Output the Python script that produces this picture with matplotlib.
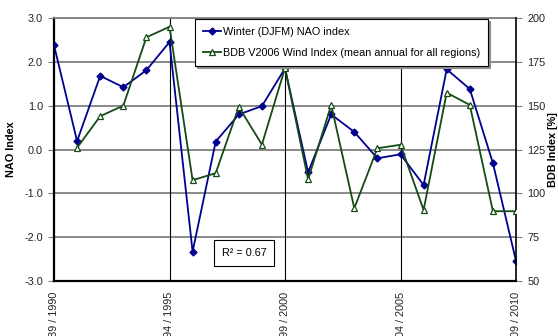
import matplotlib
matplotlib.use("Agg")
import matplotlib.pyplot as plt

years = list(range(1990, 2011))
nao = [2.38, 0.19, 1.68, 1.42, 1.81, 2.45, -2.33, 0.18, 0.80, 0.99, 1.85,
       -0.52, 0.80, 0.40, -0.20, -0.11, -0.81, 1.83, 1.38, -0.31, -2.54]
bdb_years = list(range(1991, 2011))
bdb = [126, 144, 150, 189, 195, 107.5, 111.5, 149.3, 127.8, 171.4, 108,
       150.4, 91.5, 125.7, 127.7, 90.5, 157.4, 150.4, 89.8, 89.8]
xtick_years = [1990, 1995, 2000, 2005, 2010]
xtick_labels = ["1989 / 1990", "1994 / 1995", "1999 / 2000", "2004 / 2005", "2009 / 2010"]
left_ticks = [-3, -2, -1, 0, 1, 2, 3]
right_ticks = [50, 75, 100, 125, 150, 175, 200]

plt.rcParams['font.family'] = ['Liberation Sans', 'DejaVu Sans']
fs = 7.8

fig = plt.figure(figsize=(5.58, 3.36), dpi=100)
ax = fig.add_axes([54/558, 55/336, 462/558, 263/336])
ax2 = ax.twinx()

blue = '#000090'
green = '#144a14'

ax.set_xlim(1990, 2010)
ax.set_ylim(-3, 3)
ax2.set_ylim(50, 200)

for v in left_ticks:
    ax.axhline(v, color='#808080', lw=1.3, zorder=1)
for yx in xtick_years[1:-1]:
    ax.axvline(yx, color='black', lw=0.8, zorder=1)

l1, = ax.plot(years, nao, color=blue, lw=1.3, marker='D', ms=3.5,
              mfc=blue, mec=blue, zorder=3, label='Winter (DJFM) NAO index')
l2, = ax2.plot(bdb_years, bdb, color=green, lw=1.3, marker='^', ms=4.5,
               mfc='white', mec=green, mew=0.9, zorder=3,
               label='BDB V2006 Wind Index (mean annual for all regions)')

ax.set_yticks(left_ticks)
ax.set_yticklabels([f"{v:.1f}" for v in left_ticks], fontsize=fs, color='#222222')
ax2.set_yticks(right_ticks)
ax2.set_yticklabels([str(v) for v in right_ticks], fontsize=fs, color='#222222')
ax.set_xticks(xtick_years)
ax.set_xticklabels(xtick_labels, rotation=90, fontsize=fs, color='#222222', va='top')

ax.tick_params(axis='y', direction='out', length=4, width=0.8, color='#808080', pad=4)
ax2.tick_params(axis='y', direction='out', length=4, width=0.8, color='#808080', pad=4)
ax.tick_params(axis='x', length=0, pad=8)

for s in ['left', 'bottom']:
    ax.spines[s].set_linewidth(1.6)
    ax.spines[s].set_color('black')
ax.spines['top'].set_color('#808080')
ax.spines['top'].set_linewidth(1.3)
ax2.spines['top'].set_visible(False)
ax2.spines['right'].set_linewidth(1.2)
ax2.spines['right'].set_color('black')
ax.spines['right'].set_visible(False)
ax2.spines['left'].set_visible(False)
ax2.spines['bottom'].set_visible(False)

ax.set_ylabel('NAO Index', fontsize=fs, fontweight='bold')
ax.yaxis.set_label_coords(-38/462, 0.5)
ax2.set_ylabel('BDB Index [%]', fontsize=fs, fontweight='bold')
ax2.yaxis.set_label_coords(1 + 32/462, 0.5)

leg = ax2.legend(handles=[l1, l2], loc='upper left',
                 bbox_to_anchor=(195/558, 1 - 19/336), bbox_transform=fig.transFigure,
                 fontsize=fs, frameon=True, fancybox=False, framealpha=1,
                 edgecolor='black', labelspacing=1.05, handlelength=1.7,
                 handletextpad=0.2, borderpad=0.7, borderaxespad=0,
                 shadow={'color': '#909090', 'ox': 1.5, 'oy': -1.5, 'alpha': 1})
leg.get_frame().set_linewidth(0.8)
leg.set_zorder(10)

ax.text((244-54)/462, (281-253)/263, 'R² = 0.67', transform=ax.transAxes,
        fontsize=fs, ha='center', va='center', zorder=5,
        bbox=dict(boxstyle='square,pad=0.7', fc='white', ec='black', lw=0.8))

fig.savefig('out.png', dpi=100)
